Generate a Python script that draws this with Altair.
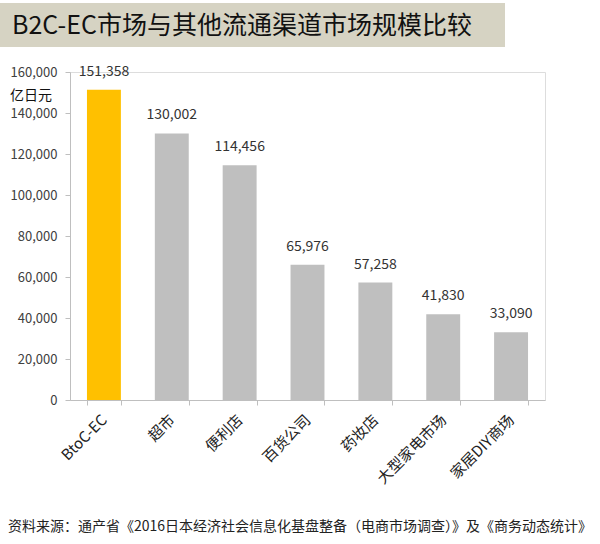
import altair as alt
import pandas as pd

categories = ["BtoC-EC", "超市", "便利店", "百货公司", "药妆店", "大型家电市场", "家居DIY商场"]
values = [151358, 130002, 114456, 65976, 57258, 41830, 33090]
colors = ["#FFC000", "#BFBFBF", "#BFBFBF", "#BFBFBF", "#BFBFBF", "#BFBFBF", "#BFBFBF"]
y_ticks = [0, 20000, 40000, 60000, 80000, 100000, 120000, 140000, 160000]

title_text = "B2C-EC市场与其他流通渠道市场规模比较"
unit_text = "亿日元"
source_text = "资料来源：通产省《2016日本经济社会信息化基盘整备（电商市场调查）》及《商务动态统计》"

df = pd.DataFrame({"cat": categories, "val": values, "color": colors})
df["label"] = df["val"].map(lambda v: f"{v:,}")

FONT = "Noto Sans CJK SC"

x = alt.X("cat:N", sort=categories, title=None,
          scale=alt.Scale(paddingInner=0.5, paddingOuter=0.25),
          axis=alt.Axis(labelAngle=-45, labelAlign="right", labelBaseline="middle",
                        labelFontSize=15, labelColor="#222222", labelFont=FONT,
                        labelPadding=12, tickBand="extent", tickSize=5,
                        tickColor="#BFBFBF", domainColor="#BFBFBF", labelOverlap=False))
y = alt.Y("val:Q", title=None,
          scale=alt.Scale(domain=[0, 160000], nice=False),
          axis=alt.Axis(values=y_ticks, format=",.0f", grid=False,
                        labelFontSize=13, labelColor="#404040", labelFont=FONT,
                        tickSize=5, tickColor="#BFBFBF", domainColor="#BFBFBF",
                        labelPadding=8))

bars = alt.Chart(df).mark_bar().encode(x=x, y=y, color=alt.Color("color:N", scale=None))
texts = alt.Chart(df).mark_text(baseline="middle", dy=-18, fontSize=14, font=FONT,
                                color="#333333").encode(x=x, y=y, text="label:N")

title_bg = alt.Chart(pd.DataFrame({"t": [title_text]})).mark_rect(color="#D6D3C3").encode(
    x=alt.value(-70), x2=alt.value(435), y=alt.value(-69), y2=alt.value(-25))
title = alt.Chart(pd.DataFrame({"t": [title_text]})).mark_text(
    align="left", baseline="middle", fontSize=25, font=FONT, color="#111111").encode(
    x=alt.value(-58), y=alt.value(-46), text="t:N")
unit = alt.Chart(pd.DataFrame({"t": [unit_text]})).mark_text(
    align="left", baseline="middle", fontSize=14, font=FONT, color="#111111").encode(
    x=alt.value(-60), y=alt.value(24), text="t:N")
source = alt.Chart(pd.DataFrame({"t": [source_text]})).mark_text(
    align="left", baseline="middle", fontSize=14, font=FONT, color="#222222").encode(
    x=alt.value(-62), y=alt.value(455), text="t:N")

chart = alt.layer(bars, texts, title_bg, title, unit, source).properties(
    width=475, height=328,
    autosize=alt.AutoSizeParams(type="none"),
    padding={"left": 70, "top": 72, "right": 55, "bottom": 144},
).configure_view(stroke=None).configure(background="white")

chart.save("out.html", embed_options={"renderer": "svg", "actions": False})
